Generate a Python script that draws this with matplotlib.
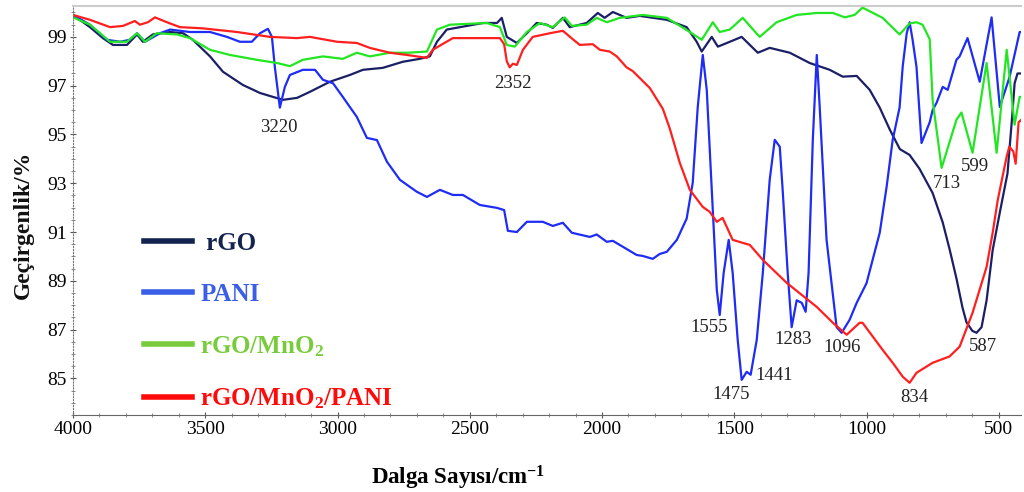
import matplotlib
matplotlib.use("Agg")
import matplotlib.pyplot as plt
from matplotlib.lines import Line2D
from matplotlib.ticker import MultipleLocator

plt.rcParams['font.family'] = ['Liberation Serif', 'DejaVu Serif']
plt.rcParams['mathtext.fontset'] = 'custom'
plt.rcParams['mathtext.rm'] = 'Liberation Serif:bold'
plt.rcParams['mathtext.default'] = 'rm'

# wavenumber (cm-1) / transmittance (%)
rgo_wn = [4000, 3936, 3887, 3849, 3796, 3758, 3736, 3698, 3633, 3584, 3547, 3482, 3433, 3358,
          3293, 3244, 3206, 3153, 3104, 3029, 2953, 2904, 2829, 2753, 2689, 2651, 2624, 2587,
          2511, 2450, 2397, 2379, 2360, 2322, 2284, 2247, 2209, 2186, 2148, 2122, 2058, 2016,
          1990, 1959, 1907, 1857, 1755, 1680, 1642, 1623, 1585, 1562, 1528, 1472, 1411, 1366,
          1290, 1215, 1139, 1090, 1037, 988, 950, 912, 874, 837, 800, 750, 712, 686, 660, 637,
          622, 600, 584, 565, 546, 523, 496, 467, 451, 440, 429, 415]
rgo_t = [99.9, 99.4, 98.95, 98.67, 98.67, 99.1, 98.8, 99.1, 99.2, 99.15, 98.88, 98.2, 97.57, 97.03,
         96.7, 96.54, 96.42, 96.5, 96.75, 97.16, 97.44, 97.65, 97.73, 97.98, 98.1, 98.2, 98.8, 99.3,
         99.45, 99.57, 99.57, 99.78, 99.0, 98.75, 99.15, 99.57, 99.5, 99.37, 99.78, 99.4, 99.57, 99.98,
         99.78, 100.02, 99.78, 99.86, 99.7, 99.4, 98.8, 98.4, 99.0, 98.6, 98.75, 99.0, 98.35, 98.55,
         98.35, 97.93, 97.65, 97.37, 97.4, 96.83, 96.1, 95.2, 94.4, 94.16, 93.6, 92.6, 91.4, 90.3, 89.1, 87.9,
         87.3, 86.95, 86.87, 87.1, 88.2, 90.26, 91.8, 93.4, 95.5, 97.1, 97.5, 97.5]

pani_wn = [4000, 3936, 3872, 3822, 3785, 3758, 3728, 3671, 3633, 3558, 3482, 3418, 3369, 3324,
           3293, 3263, 3248, 3237, 3218, 3199, 3180, 3131, 3085, 3055, 3017, 2980, 2927, 2889,
           2851, 2813, 2764, 2700, 2662, 2613, 2564, 2526, 2462, 2397, 2370, 2356, 2322, 2284,
           2224, 2186, 2148, 2114, 2046, 2020, 1982, 1959, 1869, 1846, 1808, 1782, 1755, 1717,
           1680, 1657, 1638, 1619, 1604, 1585, 1566, 1555, 1540, 1521, 1506, 1487, 1472, 1453,
           1438, 1415, 1392, 1366, 1347, 1328, 1317, 1298, 1283, 1264, 1245, 1230, 1219, 1203,
           1188, 1177, 1151, 1113, 1094, 1064, 1037, 1000, 950, 924, 901, 875, 863, 848, 837,
           826, 811, 792, 761, 750, 735, 712, 693, 660, 648, 618, 572, 527, 496, 459, 421, 415]
pani_t = [99.9, 99.5, 98.88, 98.8, 98.88, 99.15, 98.8, 99.15, 99.3, 99.2, 99.2, 99.0, 98.8, 98.8,
          99.15, 99.33, 99.0, 97.77, 96.1, 96.95, 97.44, 97.65, 97.65, 97.24, 97.1, 96.54, 95.72, 94.86,
          94.77, 93.88, 93.14, 92.65, 92.44, 92.73, 92.52, 92.52, 92.11, 91.99, 91.9, 91.05, 91.0, 91.42,
          91.42, 91.25, 91.38, 90.97, 90.8, 90.9, 90.6, 90.64, 90.06, 90.02, 89.9, 90.1, 90.19, 90.68,
          91.55, 93.02, 96.13, 98.26, 96.83, 92.73, 88.63, 87.6, 89.33, 90.68, 89.33, 86.58, 84.94, 85.27,
          85.15, 86.58, 89.33, 93.14, 94.78, 94.5, 92.73, 89.33, 87.1, 88.2, 88.1, 87.73, 89.33, 94.78,
          98.26, 96.13, 90.68, 87.1, 86.87, 87.4, 88.1, 88.9, 90.97, 92.85, 94.78, 96.1, 97.8, 99.15, 99.6,
          98.9, 97.77, 94.65, 95.5, 96.0, 96.3, 96.95, 96.83, 98.06, 98.2, 98.95, 97.16, 99.8, 96.13, 97.36, 99.2, 99.2]

mno2_wn = [4000, 3936, 3860, 3796, 3758, 3728, 3683, 3607, 3558, 3482, 3407, 3305, 3229, 3180,
           3131, 3055, 2980, 2927, 2878, 2802, 2734, 2662, 2624, 2575, 2435, 2386, 2360, 2330,
           2284, 2235, 2186, 2141, 2114, 2058, 2020, 1982, 1933, 1846, 1755, 1668, 1623, 1581,
           1555, 1517, 1468, 1404, 1340, 1264, 1188, 1127, 1082, 1045, 1015, 939, 875, 837, 811,
           788, 761, 750, 716, 660, 641, 599, 546, 508, 470, 440, 421, 415]
mno2_t = [99.8, 99.5, 98.8, 98.8, 99.15, 98.8, 99.15, 99.1, 98.95, 98.47, 98.26, 98.06, 97.93, 97.8,
          98.06, 98.2, 98.1, 98.35, 98.2, 98.35, 98.35, 98.4, 99.3, 99.5, 99.57, 99.4, 98.67, 98.6,
          99.2, 99.57, 99.4, 99.8, 99.45, 99.5, 99.78, 99.6, 99.78, 99.9, 99.78, 99.2, 98.88, 99.6,
          99.2, 99.3, 99.78, 99.0, 99.6, 99.9, 99.98, 99.98, 99.8, 99.9, 100.2, 99.78, 99.1, 99.55, 99.6,
          99.5, 98.9, 96.4, 93.63, 95.6, 95.9, 94.25, 97.93, 94.25, 98.47, 95.4, 96.54, 96.54]

comp_wn = [4000, 3936, 3860, 3811, 3766, 3747, 3717, 3690, 3645, 3596, 3509, 3380, 3255, 3153,
           3104, 3002, 2927, 2878, 2802, 2738, 2662, 2640, 2564, 2386, 2370, 2360, 2349, 2337,
           2322, 2299, 2262, 2197, 2148, 2110, 2084, 2035, 2008, 1971, 1944, 1907, 1884, 1819,
           1770, 1744, 1706, 1668, 1619, 1593, 1566, 1544, 1506, 1441, 1392, 1302, 1188, 1127,
           1075, 1026, 1015, 939, 901, 863, 837, 811, 750, 686, 648, 599, 546, 523, 504, 470,
           460, 445, 436, 425, 415]
comp_t = [99.9, 99.7, 99.4, 99.45, 99.65, 99.5, 99.6, 99.8, 99.6, 99.4, 99.35, 99.2, 99.0, 98.95,
          99.0, 98.8, 98.75, 98.55, 98.35, 98.26, 98.14, 98.47, 98.95, 98.95, 98.7, 98.0, 97.75, 97.9,
          97.85, 98.47, 99.0, 99.15, 99.25, 98.9, 98.67, 98.7, 98.47, 98.4, 98.2, 97.75, 97.6, 96.9,
          96.05, 95.25, 93.84, 92.73, 92.03, 91.83, 91.42, 91.58, 90.68, 90.47, 89.86, 88.92, 87.93, 87.28,
          86.79, 87.28, 87.28, 86.17, 85.64, 85.07, 84.82, 85.23, 85.64, 85.9, 86.3, 87.69, 89.57, 90.97, 92.3, 94.1,
          94.5, 94.3, 93.8, 95.5, 95.6]

series_names = [' rGO', 'PANI', 'rGO/MnO$_2$', 'rGO/MnO$_2$/PANI']
line_colors = ['#1b1f66', '#1e2cf5', '#22e622', '#ff1f1f']
legend_colors = ['#13224f', '#3a5ee6', '#78cc3c', '#ff0a0a']

# peak labels: (text, wavenumber, transmittance)
peak_text = ['3220', '2352', '1555', '1475', '1441', '1283', '1096', '834', '587', '713', '599']
peak_x = [3221, 2337, 1596, 1510, 1351, 1279, 1094, 818, 561, 697, 591]
peak_y = [95.27, 97.1, 87.07, 84.33, 85.1, 86.6, 86.25, 84.2, 86.3, 93.0, 93.67]

fig = plt.figure(figsize=(10.24, 4.92), dpi=100)
ax = fig.add_axes([0.0713, 0.1565, 0.926, 0.8315])

curves = [(rgo_wn, rgo_t), (pani_wn, pani_t), (mno2_wn, mno2_t), (comp_wn, comp_t)]
for (wn, t), c in zip(curves, line_colors):
    ax.plot(wn, t, color=c, linewidth=1.6)

for txt, x, y in zip(peak_text, peak_x, peak_y):
    ax.text(x, y, txt, fontsize=13.5, ha='center', va='center', color='#222222')

ax.set_xlim(4000, 415)
ax.set_ylim(83.5, 100.27)
ax.xaxis.set_major_locator(MultipleLocator(500))
ax.xaxis.set_minor_locator(MultipleLocator(100))
ax.set_yticks([85, 87, 89, 91, 93, 95, 97, 99])
ax.yaxis.set_minor_locator(MultipleLocator(0.5))
ax.tick_params(axis='both', which='major', labelsize=14, direction='inout', length=5,
               color='#555555', pad=2)
ax.tick_params(axis='both', which='minor', direction='inout', length=3, color='#777777')

ax.spines['right'].set_visible(False)
ax.spines['top'].set_color('#cccccc')
ax.spines['top'].set_linewidth(1.5)
ax.spines['left'].set_color('#777777')
ax.spines['left'].set_linestyle(':')
ax.spines['bottom'].set_color('#666666')

# axis titles sit off-centre in the reference, so place them on the figure
fig.text(458 / 1024, 1 - 478 / 492, 'Dalga Sayısı/cm$^{-1}$', fontsize=16.5,
         fontweight='bold', ha='center', va='center')
fig.text(23 / 1024, 1 - 225 / 492, 'Geçirgenlik/%', fontsize=17, fontweight='bold',
         rotation=90, ha='center', va='center', color='#111111')

handles = [Line2D([0], [0], color=c, linewidth=4) for c in legend_colors]
ax.legend(handles, series_names, loc='upper left', bbox_to_anchor=(0.075, 0.447),
          frameon=False, prop={'size': 18, 'weight': 'bold'}, handlelength=1.9,
          handletextpad=0.35, labelspacing=1.12, borderpad=0, borderaxespad=0,
          labelcolor=legend_colors)

fig.savefig('out.png', dpi=100)
